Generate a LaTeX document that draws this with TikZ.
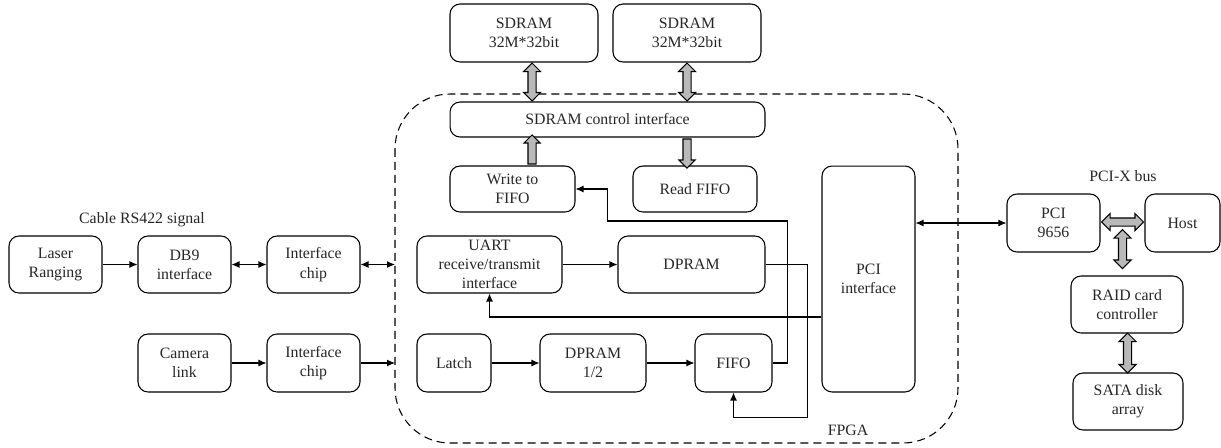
\documentclass[tikz,border=0pt]{standalone}
\usepackage{fontspec}
\setmainfont{Liberation Serif}
\usetikzlibrary{arrows.meta,calc,shapes.arrows}
\tikzset{
  blk/.style 2 args={draw, rounded corners=2mm, line width=0.6pt, align=center,
    minimum width=#1*0.2mm, minimum height=#2*0.2mm, inner sep=1pt},
  arr/.style={line width=0.6pt, -{Latex[length=1.6mm,width=1.4mm]}},
  dbl/.style={line width=0.6pt, {Latex[length=1.6mm,width=1.4mm]}-{Latex[length=1.6mm,width=1.4mm]}},
  fatdbl/.style={double arrow, draw, fill=gray!55, line width=0.6pt, inner xsep=0pt, inner ysep=0.7mm,
    minimum width=3.2mm, double arrow head extend=0.9mm, minimum height=#1},
  fatone/.style={single arrow, draw, fill=gray!55, line width=0.6pt, inner xsep=0pt, inner ysep=0.7mm,
    minimum width=3.0mm, single arrow head extend=0.8mm, minimum height=#1}
}
\begin{document}
\begin{tikzpicture}[x=0.02cm, y=-0.02cm, font=\fontsize{9}{11}\selectfont, text=black!85]
  \useasboundingbox (0,0) rectangle (1221,447);

  % FPGA boundary
  \draw [dash pattern=on 1.6mm off 1mm, line width=0.6pt, rounded corners=11mm] (395,94) rectangle (958,443);
  \node (fpga) at (848,430) {FPGA};

  % memory and control
  \node [blk={148}{58}] (sdA) at (524,33) {SDRAM\\32M*32bit};
  \node [blk={148}{58}] (sdB) at (687,33) {SDRAM\\32M*32bit};
  \node [blk={315}{35}] (ctrl) at (607.5,119.5) {SDRAM control interface};
  \node [blk={125}{46}] (wfifo) at (512.5,189) {Write to\\FIFO};
  \node [blk={124}{46}] (rfifo) at (695,189) {Read FIFO};

  % inside FPGA
  \node [blk={145}{57}] (uart) at (489.5,264.5) {UART\\receive/transmit\\interface};
  \node [blk={147}{57}] (dpram) at (691.5,264.5) {DPRAM};
  \node [blk={74}{58}] (latch) at (454,363) {Latch};
  \node [blk={106}{58}] (dpramh) at (593,363) {DPRAM\\1/2};
  \node [blk={77}{58}] (fifo) at (733.5,363) {FIFO};
  \node [blk={93}{226}] (pci) at (868.5,279) {PCI\\interface};

  % left side
  \node (cable) at (142,220) {Cable RS422 signal};
  \node [blk={93}{57}] (laser) at (55.5,264.5) {Laser\\Ranging};
  \node [blk={93}{57}] (db9) at (184.5,264.5) {DB9\\interface};
  \node [blk={93}{57}] (chipA) at (313.5,264.5) {Interface\\chip};
  \node [blk={93}{58}] (camera) at (184.5,363) {Camera\\link};
  \node [blk={93}{58}] (chipB) at (313.5,363) {Interface\\chip};
  \coordinate (inA) at (395,264.5);
  \coordinate (inB) at (395,363);

  % right side
  \node (pcix) at (1123,176) {PCI-X bus};
  \node [blk={93}{58}] (plx) at (1053.5,223) {PCI\\9656};
  \node [blk={75}{58}] (host) at (1182.5,223) {Host};
  \node [blk={112}{57}] (raid) at (1127,304.5) {RAID card\\controller};
  \node [blk={110}{57}] (sata) at (1128,401.5) {SATA disk\\array};

  % wide buses
  \node [fatdbl=7.6mm, rotate=90] at ($(sdA.south)!.5!(ctrl.north -| sdA.south)+(8,0)$) {};
  \node [fatdbl=7.6mm, rotate=90] at ($(sdB.south)!.5!(ctrl.north -| sdB.south)$) {};
  \node [fatone=5.8mm, rotate=90] at ($(wfifo.north)!.5!(ctrl.south -| wfifo.north)+(19.5,0)$) {};
  \node [fatone=5.8mm, rotate=-90] at ($(rfifo.north)!.5!(ctrl.south -| rfifo.north)+(-8,0)$) {};
  \node [fatdbl=8.4mm] (bus) at ($(plx.east)!.5!(host.west)+(0,-1)$) {};
  \node [fatdbl=7.8mm, rotate=90] at ($(bus.south)!.5!(raid.north -| bus.south)+(0,-2)$) {};
  \node [fatdbl=8mm, rotate=90] at ($(raid.south)!.5!(sata.north)$) {};

  % signal lines
  \draw [arr] (laser) -- (db9);
  \draw [dbl] (db9) -- (chipA);
  \draw [dbl] (chipA) -- (inA);
  \draw [arr] (camera) -- (chipB);
  \draw [arr] (chipB) -- (inB);
  \draw [arr] (uart) -- (dpram);
  \draw [arr] (latch) -- (dpramh);
  \draw [arr] (dpramh) -- (fifo);
  \draw [arr] (dpram.east) -- ++(42,0) |- ($(fifo.south)+(0,25)$) -- (fifo.south);
  \coordinate (wfin) at ($(wfifo.east)+(32,32)$);
  \draw [arr] (fifo.east) -- ++(15,0) |- (wfin) |- (wfifo.east);
  \draw [arr] ($(pci.west)+(0,38)$) -| (uart.south);
  \draw [dbl] (pci.east |- plx.west) -- (plx.west);
\end{tikzpicture}
\end{document}
